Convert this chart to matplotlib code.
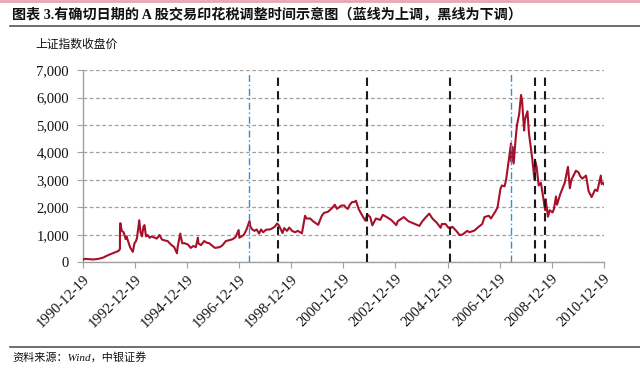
import numpy as np
import pandas as pd
import matplotlib.pyplot as plt
from matplotlib.ticker import FuncFormatter

# Shanghai composite close
dates = [
    "1990-12-19", "1990-12-31", "1991-01-31", "1991-03-31", "1991-05-15", "1991-07-31",
    "1991-09-30", "1991-11-30", "1991-12-31", "1992-02-28", "1992-04-30", "1992-05-20",
    "1992-05-21", "1992-05-26", "1992-06-15", "1992-07-10", "1992-08-10", "1992-08-20",
    "1992-09-15", "1992-10-10", "1992-11-17", "1992-12-10", "1992-12-31", "1993-01-15",
    "1993-02-15", "1993-03-05", "1993-03-25", "1993-04-15", "1993-04-30", "1993-05-20",
    "1993-06-10", "1993-07-10", "1993-08-10", "1993-09-20", "1993-10-20", "1993-11-25",
    "1993-12-31", "1994-02-10", "1994-03-20", "1994-05-10", "1994-06-20", "1994-07-29",
    "1994-08-10", "1994-09-13", "1994-10-10", "1994-11-15", "1994-12-31", "1995-02-07",
    "1995-03-15", "1995-04-20", "1995-05-19", "1995-05-25", "1995-06-30", "1995-08-15",
    "1995-09-20", "1995-10-25", "1995-12-31", "1996-01-20", "1996-03-20", "1996-04-25",
    "1996-06-15", "1996-08-15", "1996-09-20", "1996-10-30", "1996-12-10", "1996-12-20",
    "1997-01-20", "1997-02-20", "1997-03-31", "1997-05-12", "1997-05-25", "1997-06-20",
    "1997-07-20", "1997-08-20", "1997-09-23", "1997-10-20", "1997-11-20", "1997-12-31",
    "1998-02-20", "1998-03-20", "1998-04-30", "1998-06-03", "1998-06-30", "1998-08-18",
    "1998-09-10", "1998-10-20", "1998-11-20", "1998-12-31", "1999-02-10", "1999-03-20",
    "1999-05-17", "1999-06-30", "1999-07-20", "1999-09-10", "1999-10-20", "1999-12-31",
    "2000-02-20", "2000-03-20", "2000-05-20", "2000-07-20", "2000-08-20", "2000-09-20",
    "2000-11-20", "2000-12-31", "2001-01-20", "2001-02-20", "2001-03-20", "2001-04-20",
    "2001-05-20", "2001-06-13", "2001-07-20", "2001-08-20", "2001-10-22", "2001-11-20",
    "2001-12-31", "2002-01-29", "2002-03-20", "2002-05-20", "2002-06-25", "2002-08-20",
    "2002-10-20", "2002-12-31", "2003-01-20", "2003-04-15", "2003-06-20", "2003-09-20",
    "2003-11-20", "2003-12-31", "2004-02-20", "2004-04-07", "2004-05-20", "2004-07-20",
    "2004-09-13", "2004-09-30", "2004-11-20", "2004-12-31", "2005-01-24", "2005-02-25",
    "2005-04-20", "2005-06-06", "2005-07-20", "2005-09-20", "2005-10-20", "2005-12-31",
    "2006-02-20", "2006-04-20", "2006-05-20", "2006-07-20", "2006-08-20", "2006-10-20",
    "2006-11-20", "2006-12-31", "2007-01-20", "2007-02-27", "2007-03-20", "2007-04-20",
    "2007-05-29", "2007-06-04", "2007-06-20", "2007-07-05", "2007-07-31", "2007-08-20",
    "2007-09-20", "2007-10-16", "2007-10-30", "2007-11-28", "2007-12-10", "2008-01-14",
    "2008-02-04", "2008-03-20", "2008-04-22", "2008-04-30", "2008-05-20", "2008-06-20",
    "2008-07-20", "2008-08-20", "2008-09-18", "2008-09-25", "2008-10-28", "2008-11-20",
    "2008-12-31", "2009-01-20", "2009-02-17", "2009-03-03", "2009-04-20", "2009-06-20",
    "2009-08-04", "2009-08-31", "2009-09-20", "2009-11-24", "2009-12-31", "2010-01-20",
    "2010-02-20", "2010-04-15", "2010-05-20", "2010-07-02", "2010-08-20", "2010-09-20",
    "2010-11-08", "2010-11-20", "2010-12-10", "2010-12-31",
]
close = [
    100, 127, 129, 120, 110, 136,
    180, 260, 292, 350, 420, 490,
    1266, 1429, 1150, 1100, 850, 950,
    750, 550, 386, 700, 780, 900,
    1536, 1100, 950, 1300, 1358, 950,
    1000, 900, 950, 900, 870, 1000,
    833, 800, 780, 640, 560, 333,
    600, 1052, 700, 700, 650, 530,
    600, 560, 900, 700, 630, 780,
    720, 700, 555, 530, 560, 620,
    780, 820, 850, 930, 1180, 900,
    950, 1000, 1200, 1510, 1300, 1200,
    1150, 1200, 1050, 1200, 1100, 1194,
    1200, 1230, 1300, 1420, 1340, 1070,
    1250, 1150, 1270, 1147, 1100, 1150,
    1060, 1700, 1600, 1600, 1500, 1367,
    1700, 1800, 1850, 2000, 2100, 1950,
    2070, 2073, 2000, 1950, 2100, 2200,
    2200, 2245, 1950, 1800, 1520, 1750,
    1646, 1350, 1600, 1550, 1730, 1650,
    1550, 1357, 1500, 1650, 1500, 1400,
    1330, 1497, 1650, 1777, 1600, 1450,
    1260, 1400, 1400, 1266, 1240, 1300,
    1150, 998, 1020, 1150, 1100, 1161,
    1280, 1400, 1650, 1700, 1600, 1850,
    2000, 2675, 2800, 2770, 3000, 3600,
    4334, 3670, 4200, 3600, 4470, 5000,
    5400, 6092, 5900, 4800, 5200, 5500,
    4700, 3800, 3000, 3690, 3500, 2800,
    2900, 2400, 1900, 2300, 1664, 1900,
    1820, 1950, 2400, 2100, 2500, 2900,
    3478, 2700, 3000, 3338, 3277, 3150,
    3050, 3160, 2600, 2380, 2650, 2600,
    3160, 2850, 2900, 2808,
]

# stamp duty changes
up_dates = ["1997-05-10", "2007-05-30"]
down_dates = ["1998-06-12", "2001-11-16", "2005-01-24", "2008-04-24", "2008-09-19"]

tick_dates = ["1990-12-19", "1992-12-19", "1994-12-19", "1996-12-19", "1998-12-19", "2000-12-19",
              "2002-12-19", "2004-12-19", "2006-12-19", "2008-12-19", "2010-12-19"]

cjk = ['Liberation Serif', 'Noto Sans CJK SC']
red = '#A8102A'

fig = plt.figure(figsize=(6.4, 3.72), dpi=100)
ax = fig.add_axes([0.1297, 0.2944, 0.8143, 0.5174])

x = pd.to_datetime(dates)
ax.plot(x, close, color=red, lw=1.5, zorder=3)

for d in up_dates:
    ax.vlines(pd.Timestamp(d), 0, 6850, colors='#2F8FE3', lw=1.0, linestyles=(0, (5, 2, 1, 2)), zorder=4)
for d in down_dates:
    ax.vlines(pd.Timestamp(d), 0, 6850, colors='#1A1A1A', lw=1.5, linestyles=(0, (4, 2.5)), zorder=4)

ax.set_ylim(0, 7000)
ax.set_yticks(np.arange(0, 7001, 1000))
ax.yaxis.set_major_formatter(FuncFormatter(lambda v, p: f"{int(v):,}"))
ax.grid(axis='y', color='#A0A0A0', lw=0.9, ls=(0, (3, 2)))
ax.set_axisbelow(True)

ticks = pd.to_datetime(tick_dates)
ax.set_xlim(ticks[0], ticks[-1] + pd.Timedelta(days=6))
ax.set_xticks(ticks)
ax.set_xticklabels(tick_dates, rotation=45, ha='right', rotation_mode='anchor')

for s in ['top', 'right']:
    ax.spines[s].set_visible(False)
for s in ['left', 'bottom']:
    ax.spines[s].set_color('#A0A0A0')
    ax.spines[s].set_linewidth(1.0)
ax.tick_params(axis='both', direction='out', length=4, color='#A0A0A0', width=0.8,
               labelsize=10.5, labelcolor='#111111')
ax.tick_params(axis='y', pad=6)
ax.tick_params(axis='x', pad=3)
for lab in ax.get_xticklabels() + ax.get_yticklabels():
    lab.set_family('Liberation Serif')

# header, subtitle and footer
fig.add_artist(plt.Line2D([0, 1], [0.997, 0.997], color='#E9A3B4', lw=2))
fig.text(12 / 640, 1 - 15 / 372, "图表 3.有确切日期的 A 股交易印花税调整时间示意图（蓝线为上调，黑线为下调）",
         family=cjk, fontsize=10.2, fontweight='bold', va='center', ha='left', color='#111111')
fig.add_artist(plt.Line2D([10 / 640, 1], [1 - 26 / 372, 1 - 26 / 372], color='#555555', lw=1.2))
fig.text(35 / 640, 1 - 45 / 372, "上证指数收盘价", family=cjk, fontsize=8.5,
         va='center', ha='left', color='#111111')
fig.add_artist(plt.Line2D([10 / 640, 1], [1 - 347 / 372, 1 - 347 / 372], color='#555555', lw=1.2))
fig.text(12 / 640, 1 - 357 / 372, "资料来源：Wind，中银证券", family=cjk, fontsize=8,
         style='italic', va='center', ha='left', color='#111111')

plt.savefig("out.png", dpi=100)
